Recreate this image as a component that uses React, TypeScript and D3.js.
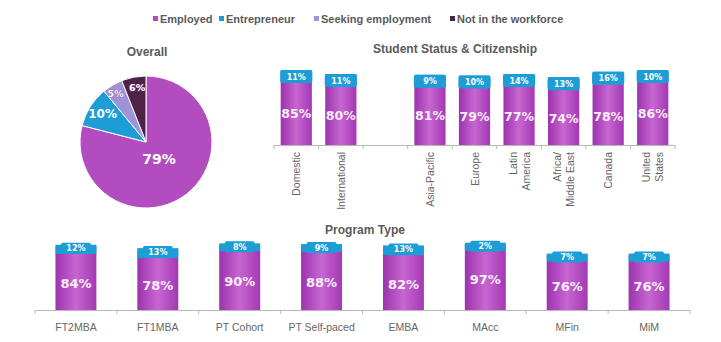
import React from 'react';
import * as d3 from 'd3';

const legendLabels = ['Employed', 'Entrepreneur', 'Seeking employment', 'Not in the workforce'];
const overallValues = [79, 10, 5, 6];

const statusCategories = ['Domestic', 'International', '', 'Asia-Pacific', 'Europe', 'Latin\nAmerica', 'Africa/\nMiddle East', 'Canada', 'United\nStates'];
const statusEmployed = [85, 80, null, 81, 79, 77, 74, 78, 86];
const statusEntrepreneur = [11, 11, null, 9, 10, 14, 13, 16, 10];

const programCategories = ['FT2MBA', 'FT1MBA', 'PT Cohort', 'PT Self-paced', 'EMBA', 'MAcc', 'MFin', 'MiM'];
const programEmployed = [84, 78, 90, 88, 82, 97, 76, 76];
const programEntrepreneur = [12, 13, 8, 9, 13, 2, 7, 7];

const COLORS = ['#b24cbf', '#1d9dd5', '#9d93d6', '#4f2248'];
const BOLD = '"DejaVu Sans", Verdana, sans-serif';
const SANS = '"Liberation Sans", Arial, sans-serif';
const GRAY = '#5a5a5a';

function Legend() {
  const xs = [153, 219, 314, 450];
  return (
    <g>
      {legendLabels.map((l, i) => (
        <g key={l}>
          <rect x={xs[i]} y={16} width={5} height={5} fill={COLORS[i]} />
          <text x={xs[i] + 7} y={22.5} fontFamily={SANS} fontWeight="bold" fontSize={11} fill={GRAY}>{l}</text>
        </g>
      ))}
    </g>
  );
}

function Pie() {
  const cx = 146, cy = 142, R = 66;
  const arcs = d3.pie<number>().sort(null).value(d => d)(overallValues);
  const arc = d3.arc<d3.PieArcDatum<number>>().innerRadius(0).outerRadius(R);
  const fs = [14, 12, 9.5, 9.5];
  const lrs = [0.32, 0.78, 0.86, 0.84];
  return (
    <g transform={`translate(${cx},${cy})`}>
      {arcs.map((a, i) => (
        <path key={i} d={arc(a) || ''} fill={COLORS[i]} stroke="#fff" strokeWidth={1} />
      ))}
      {arcs.map((a, i) => {
        const lr = R * lrs[i];
        const c = d3.arc<d3.PieArcDatum<number>>().innerRadius(lr).outerRadius(lr).centroid(a);
        return (
          <text key={'t' + i} x={c[0] + (i === 2 ? -1.5 : i === 3 ? 1.5 : 0)} y={c[1]} textAnchor="middle" dominantBaseline="central"
            fontFamily={BOLD} fontWeight="bold" fontSize={fs[i]} fill="#fff"
            stroke={i >= 2 ? '#8a3f99' : 'none'} strokeWidth={0.6} paintOrder="stroke">
            {a.data}%
          </text>
        );
      })}
    </g>
  );
}

type PanelProps = {
  id: string;
  cats: string[];
  emp: (number | null)[];
  ent: (number | null)[];
  x0: number; x1: number;
  base: number; top: number;
  pInner: number; pOuter: number;
  rotated: boolean;
  boxH: number;
};

function Panel(p: PanelProps) {
  const x = d3.scaleBand<number>().domain(p.cats.map((_, i) => i)).range([p.x0, p.x1])
    .paddingInner(p.pInner).paddingOuter(p.pOuter);
  const y = d3.scaleLinear().domain([0, 100]).range([p.base, p.top]);
  const bw = x.bandwidth();
  const step = x.step();
  const ticks = d3.range(p.cats.length + 1).map(i => p.x0 + i * step);
  return (
    <g>
      <line x1={p.x0} x2={p.x1} y1={p.base + 0.5} y2={p.base + 0.5} stroke="#b8b8b8" />
      {ticks.map((t, i) => (
        <line key={i} x1={t} x2={t} y1={p.base} y2={p.base + 4} stroke="#b8b8b8" />
      ))}
      {p.cats.map((c, i) => {
        const e = p.emp[i], n = p.ent[i];
        const bx = x(i)!;
        const cxm = bx + bw / 2;
        const label = p.rotated ? (
          c.split('\n').map((line, j, arr) => (
            <text key={j} transform={`translate(${cxm + (j - (arr.length - 1) / 2) * 13},${p.base + 7}) rotate(-90)`}
              textAnchor="end" dominantBaseline="central" fontFamily={SANS} fontSize={10.5} fill="#666">{line}</text>
          ))
        ) : (
          <text x={cxm} y={p.base + 21} textAnchor="middle" fontFamily={SANS} fontSize={10.5} fill="#666">{c}</text>
        );
        if (e == null || n == null) return <g key={i}>{label}</g>;
        const yE = y(e), yT = y(e + n);
        return (
          <g key={i}>
            <rect x={bx} y={yE} width={bw} height={p.base - yE} fill={`url(#${p.id}-g)`} />
            <rect x={bx} y={yT} width={bw} height={yE - yT} fill={COLORS[1]} />
            {p.rotated ? (
              <rect x={bx - 0.5} y={yT} width={bw + 1} height={p.boxH} rx={2.5} fill={COLORS[1]} />
            ) : (
              <g>
                <rect x={bx} y={yT + 1} width={bw} height={Math.max(yE - yT, 7)} rx={1.5} fill={COLORS[1]} />
                <rect x={cxm - 15} y={yT - 2} width={30} height={p.boxH} rx={2} fill={COLORS[1]} />
              </g>
            )}
            <text x={cxm} y={(p.rotated ? yT + p.boxH / 2 : yT - 2 + p.boxH / 2) + 0.5} textAnchor="middle" dominantBaseline="central"
              fontFamily={BOLD} fontWeight="bold" fontSize={8} fill="#fff">{n}%</text>
            <text x={cxm} y={(yE + p.base) / 2 + 2} textAnchor="middle" dominantBaseline="central"
              fontFamily={BOLD} fontWeight="bold" fontSize={p.rotated ? 12.5 : 13} fill="#fbeefd">{e}%</text>
            {label}
          </g>
        );
      })}
    </g>
  );
}

export default function App() {
  return (
    <svg width={721} height={342} style={{ position: 'absolute', left: 0, top: 0, background: '#fff' }}>
      <defs>
        {['top', 'bot'].map(id => (
          <linearGradient key={id} id={`${id}-g`} x1="0" x2="1" y1="0" y2="0">
            <stop offset="0" stopColor="#9c33ad" />
            <stop offset="0.5" stopColor="#c766d1" />
            <stop offset="1" stopColor="#a338b3" />
          </linearGradient>
        ))}
      </defs>
      <Legend />
      <text x={147} y={56} textAnchor="middle" fontFamily={SANS} fontWeight="bold" fontSize={12} fill={GRAY}>Overall</text>
      <Pie />
      <text x={455} y={53} textAnchor="middle" fontFamily={SANS} fontWeight="bold" fontSize={12} fill={GRAY}>Student Status &amp; Citizenship</text>
      <Panel id="top" cats={statusCategories} emp={statusEmployed} ent={statusEntrepreneur}
        x0={274} x1={675} base={145} top={67} pInner={0.3} pOuter={0.15} rotated={true} boxH={13} />
      <text x={365} y={234} textAnchor="middle" fontFamily={SANS} fontWeight="bold" fontSize={12} fill={GRAY}>Program Type</text>
      <Panel id="bot" cats={programCategories} emp={programEmployed} ent={programEntrepreneur}
        x0={35} x1={690} base={310} top={242} pInner={0.5} pOuter={0.25} rotated={false} boxH={11} />
    </svg>
  );
}
